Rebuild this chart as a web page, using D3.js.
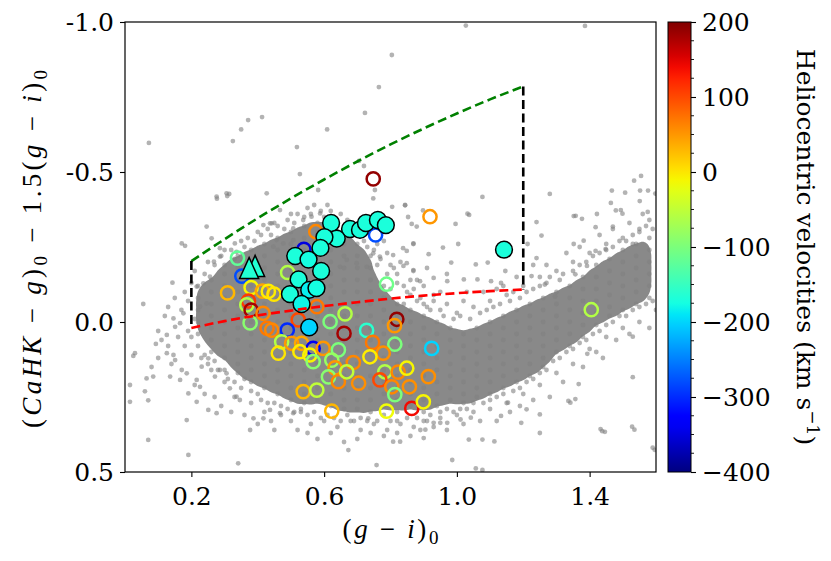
<!DOCTYPE html>
<html>
<head>
<meta charset="utf-8">
<script src="https://cdn.jsdelivr.net/npm/d3@7"></script>
<style>
  body { margin: 0; background: #fff; }
  svg { display: block; }
</style>
</head>
<body>
<div id="container"></div>
<script>
// Figure size and plot box
const width = 831;
const height = 561;
const marginTop = 22;
const marginLeft = 125;
const plotRight = 656;
const plotBottom = 472;

// Axis ticks
const xTicks = [0.2, 0.6, 1.0, 1.4];
const yTicks = [-1.0, -0.5, 0.0, 0.5];
const yTickLabels = ["-1.0", "-0.5", "0.0", "0.5"];
const cbMajorTicks = [200, 100, 0, -100, -200, -300, -400];
const cbMinorTicks = [175, 150, 125, 75, 50, 25, -25, -50, -75, -125, -150, -175,
  -225, -250, -275, -325, -350, -375];

// Sparse field stars, [(g-i)0, CaHK index]
const fieldStars = [
  [1.027,-0.988],[1.386,-0.987],[0.804,-0.89],[0.765,-0.783],[0.723,-0.697],[0.609,-0.642],
  [0.413,-0.683],[0.371,-0.673],[0.35,-0.642],[0.325,-0.603],[0.072,-0.597],[0.518,-0.583],
  [0.527,-0.493],[0.705,-0.537],[0.72,-0.52],[1.28,-0.427],[1.467,-0.438],[1.534,-0.471],
  [1.555,-0.487],[1.552,-0.438],[1.576,-0.438],[0.181,-0.254],[0.277,-0.411],[0.314,-0.427],
  [1.077,-0.417],[1.037,-0.357],[0.805,-0.384],[0.853,-0.35],[1.358,-0.354],[1.422,-0.36],
  [1.47,-0.318],[1.494,-0.373],[1.551,-0.403],[1.575,-0.367],[1.507,-0.431],[1.598,-0.428],
  [1.464,-0.397],[1.479,-0.372],[1.499,-0.361],[1.352,-0.353],[1.377,-0.344],[1.418,-0.316],
  [0.898,-0.372],[0.864,-0.327],[0.879,-0.318],[0.844,-0.389],[1.032,-0.361],[0.996,-0.327],
  [0.958,-0.248],[0.983,-0.198],[1.004,-0.26],[0.915,-0.226],[0.849,-0.237],[0.869,-0.26],
  [1.093,-0.198],[1.146,-0.17],[1.057,-0.192],[1.24,-0.333],[1.213,-0.26],[1.255,-0.288],
  [1.24,-0.213],[1.352,-0.26],[1.382,-0.271],[1.418,-0.237],[1.448,-0.243],[1.103,-0.136],
  [1.133,-0.13],[1.062,-0.142],[1.021,-0.142],[0.971,-0.136],[0.93,-0.147],[0.889,-0.136],
  [0.869,-0.17],[0.839,-0.187],[1.225,-0.153],[1.265,-0.125],[1.296,-0.085],[1.357,-0.159],
  [1.392,-0.187],[1.53,-0.26],
  [1.53,0.049],[1.438,0.364],[1.535,0.359],[1.596,0.426],[1.53,0.184],[1.393,0.106],
  [1.367,0.207],[1.357,0.257],[1.342,0.269],[1.25,0.37],[1.194,0.336],[1.154,0.269],
  [1.113,0.398],[1.077,0.392],[1.036,0.392],[1.057,0.488],[1.077,0.493],[0.986,0.46],
  [0.9,0.387],[0.905,0.359],[1.011,0.325],[1.042,0.319],[0.971,0.336],[0.93,0.336],
  [0.95,0.336],[1.21,0.291],[1.133,0.313],[1.25,0.308],[1.446,0.366],[1.433,0.357],
  [1.528,0.349],[1.59,0.419],[1.336,0.263],
  [0.276,-0.418],[0.306,-0.429],[0.308,-0.42],[0.171,-0.262],[0.143,-0.131],[0.055,-0.06],
  [0.03,0.104],[0.025,0.113],[0.015,0.21],[0.015,0.266],[0.06,0.231],[0.07,0.261],
  [0.085,0.182],[0.065,0.188],[0.093,0.073],[0.126,0.104],[0.146,0.11],[0.151,0.127],
  [0.136,0.182],[0.166,0.193],[0.171,0.16],[0.186,0.171],[0.126,0.043],[0.151,0.016],
  [0.166,0.004],[0.176,-0.029],[0.146,-0.012],[0.191,0.238],[0.216,0.193],[0.226,0.216],
  [0.216,0.266],[0.251,0.293],[0.276,0.304],[0.186,0.327],[0.07,0.393],[0.191,0.443],
  [0.341,0.471],[0.377,0.36],[0.387,0.321],[0.316,0.221],[0.336,0.249],[0.346,0.26],
  [0.437,0.293],[0.467,0.304],[0.417,0.321],[0.507,0.304],[0.673,0.427],[0.758,0.477],
  [0.733,0.321],[0.808,0.399],[0.829,0.399],[0.306,0.171],[0.286,0.16],[0.271,0.182],
  [0.251,0.121],[0.231,0.149],[0.246,-0.318],[0.261,-0.279],[0.216,-0.118],[0.236,-0.129],
  [0.256,-0.151],[0.226,-0.051],[0.246,-0.062],[0.268,-0.201],[0.286,-0.218],[0.417,-0.323],
  [0.442,-0.329],[0.507,-0.312],[0.537,-0.34],[0.562,-0.351],[0.588,-0.362],[0.507,-0.273],
  [0.477,-0.262],[0.457,-0.273],[0.447,-0.251],[0.838,-0.246],[0.869,-0.262],[0.849,-0.196],
  [0.869,-0.173],[0.808,-0.223],[0.748,-0.229],[0.768,-0.218],[0.698,-0.196],[0.728,-0.184],
  [0.668,-0.207],[0.648,-0.184],[0.844,-0.39],[0.753,-0.44],[0.748,-0.412],[0.582,-0.44],
  [0.427,-0.429],[0.467,-0.373],[0.437,-0.329],[0.331,-0.262],[0.286,-0.246],[0.336,-0.234],
  [0.30,0.20],[0.33,0.25],[0.38,0.27],[0.42,0.30],[0.47,0.31],[0.50,0.33],[0.53,0.30],
  [0.56,0.34],[0.60,0.33],[0.64,0.35],[0.68,0.33],[0.71,0.36],[0.75,0.34],[0.79,0.36],
  [0.83,0.34],[0.87,0.35],[0.91,0.33],[0.95,0.32],[1.00,0.31],[1.05,0.30],[1.10,0.29],
  [1.15,0.27],[1.20,0.24],[1.25,0.21],[1.30,0.17],[1.35,0.14],[1.40,0.09],[1.45,0.05],
  [1.50,0.02],[1.55,0.00],[1.60,-0.04],[0.45,0.36],[0.58,0.39],[0.66,0.40],[0.78,0.38],
  [0.97,0.36],[1.12,0.33],[1.28,0.25],[1.44,0.12],
  [1.00,-0.03],[1.05,-0.05],[1.10,-0.07],[1.15,-0.09],[1.20,-0.12],[1.25,-0.15],[1.30,-0.17],
  [1.35,-0.2],[1.40,-0.23],[1.45,-0.26],[1.50,-0.28],[1.55,-0.31],[1.58,-0.34],[1.12,-0.11],
  [1.23,-0.19],[1.33,-0.23],[1.43,-0.29],[1.52,-0.33],
  [0.40,-0.30],[0.45,-0.33],[0.50,-0.36],[0.55,-0.38],[0.62,-0.37],[0.67,-0.34],[0.72,-0.31],
  [0.78,-0.27],[0.83,-0.2],[0.88,-0.14],[0.93,-0.09],[0.35,-0.27],[0.30,-0.24],[0.25,-0.2],
  [0.21,-0.17],[0.79,-0.16],[0.82,-0.13],[0.80,-0.11],[0.85,-0.10],[0.88,-0.07],[0.84,-0.06],
  [0.91,-0.05],[0.95,-0.04],[0.97,-0.06],[0.81,-0.18],[0.76,-0.19],[0.86,-0.14],
  [0.18,-0.10],[0.17,-0.04],[0.19,0.03],[0.18,0.08],[0.20,0.11],[0.23,0.12],[0.26,0.16],
  [0.16,0.05],[0.12,-0.02],[0.10,0.03],[0.13,0.08],
  // halo along the upper edge of the cloud
  [0.24,-0.16],[0.27,-0.19],[0.29,-0.22],[0.32,-0.24],[0.33,-0.21],[0.36,-0.25],[0.37,-0.28],
  [0.39,-0.27],[0.41,-0.29],[0.43,-0.31],[0.44,-0.29],[0.46,-0.32],[0.48,-0.31],[0.49,-0.34],
  [0.51,-0.33],[0.52,-0.36],[0.54,-0.35],[0.56,-0.36],[0.57,-0.39],[0.59,-0.37],[0.60,-0.35],
  [0.61,-0.39],[0.63,-0.35],[0.64,-0.33],[0.65,-0.36],[0.67,-0.31],[0.69,-0.29],[0.70,-0.32],
  [0.72,-0.27],[0.73,-0.25],[0.75,-0.24],[0.76,-0.26],[0.77,-0.21],[0.79,-0.23],[0.80,-0.19],
  [0.82,-0.16],[0.84,-0.12],[0.86,-0.09],[0.87,-0.11],[0.89,-0.08],[0.90,-0.06],[0.92,-0.04],
  [0.93,-0.07],[0.96,-0.02],[0.99,-0.01],[1.01,-0.02],[1.04,-0.01],[1.07,-0.03],[1.09,-0.04],
  [1.11,-0.05],[1.13,-0.06],[1.16,-0.07],[1.17,-0.1],[1.19,-0.08],[1.21,-0.1],[1.23,-0.11],
  [1.25,-0.12],[1.27,-0.13],[1.28,-0.15],[1.31,-0.14],[1.32,-0.16],[1.35,-0.17],[1.37,-0.19],
  [1.39,-0.2],[1.41,-0.22],[1.43,-0.23],[1.45,-0.24],[1.47,-0.25],[1.49,-0.27],[1.51,-0.27],
  [1.53,-0.29],[1.55,-0.3],[1.57,-0.32],[1.59,-0.31],
  // halo along the lower edge of the cloud
  [0.20,-0.13],[0.19,-0.07],[0.21,-0.01],[0.20,0.05],[0.22,0.08],[0.24,0.11],[0.25,0.14],
  [0.27,0.13],[0.28,0.16],[0.30,0.16],[0.31,0.19],[0.33,0.2],[0.35,0.22],[0.36,0.19],
  [0.38,0.23],[0.40,0.24],[0.41,0.26],[0.43,0.27],[0.45,0.27],[0.47,0.28],[0.49,0.29],
  [0.51,0.3],[0.53,0.29],[0.55,0.31],[0.57,0.3],[0.59,0.32],[0.61,0.31],[0.63,0.32],
  [0.65,0.33],[0.67,0.31],[0.69,0.33],[0.71,0.32],[0.73,0.33],[0.76,0.33],[0.78,0.31],
  [0.80,0.33],[0.82,0.33],[0.85,0.32],[0.88,0.32],[0.90,0.33],[0.92,0.31],[0.95,0.3],
  [0.97,0.29],[0.99,0.3],[1.01,0.29],[1.03,0.29],[1.05,0.27],[1.08,0.27],[1.10,0.26],
  [1.12,0.25],[1.14,0.24],[1.17,0.23],[1.19,0.22],[1.21,0.2],[1.23,0.19],[1.25,0.17],
  [1.27,0.16],[1.29,0.13],[1.31,0.12],[1.33,0.1],[1.35,0.09],[1.37,0.07],[1.39,0.06],
  [1.41,0.04],[1.43,0.03],[1.45,0.01],[1.47,0.0],[1.49,-0.02],[1.51,-0.02],[1.53,-0.04],
  [1.55,-0.05],[1.57,-0.06],[1.59,-0.07],
  // outer scatter
  [0.15,-0.08],[0.13,-0.05],[0.11,0.06],[0.14,0.14],[0.10,0.12],[0.08,0.15],[0.21,0.21],
  [0.24,0.24],[0.27,0.25],[0.29,0.28],[0.32,0.3],[0.36,0.31],[0.40,0.34],[0.44,0.33],
  [0.52,0.36],[0.55,0.37],[0.62,0.37],[0.70,0.39],[0.74,0.37],[0.82,0.37],[0.86,0.38],
  [0.89,0.36],[0.93,0.35],[1.02,0.34],[1.07,0.33],[1.16,0.3],[1.19,0.28],[1.23,0.26],
  [1.32,0.2],[1.38,0.15],[1.42,0.1],[1.48,0.06],[1.52,0.04],[1.58,0.02],
  [1.02,-0.07],[1.08,-0.1],[1.14,-0.12],[1.18,-0.15],[1.27,-0.19],[1.37,-0.25],[1.47,-0.31],
  [1.56,-0.36],[0.95,-0.1],[0.90,-0.12],[0.91,-0.18],[0.97,-0.16],[1.03,-0.1]
];

// Dense part of the field-star cloud, read column by column: [(g-i)0, [CaHK index...]]
const cloudColumns = [
  [0.22, [-0.12,-0.08,-0.04,0.00,0.04]],
  [0.26, [-0.14,-0.10,-0.06,-0.02,0.02,0.06,0.10]],
  [0.30, [-0.19,-0.16,-0.12,-0.08,-0.04,0.00,0.04,0.08,0.12]],
  [0.34, [-0.22,-0.18,-0.14,-0.10,-0.06,-0.02,0.02,0.06,0.10,0.14,0.17]],
  [0.38, [-0.24,-0.20,-0.16,-0.12,-0.08,-0.04,0.00,0.04,0.08,0.12,0.16,0.20]],
  [0.42, [-0.26,-0.22,-0.18,-0.14,-0.10,-0.06,-0.02,0.02,0.06,0.10,0.14,0.18,0.22]],
  [0.46, [-0.28,-0.24,-0.20,-0.16,-0.12,-0.08,-0.04,0.00,0.04,0.08,0.12,0.16,0.20,0.24]],
  [0.50, [-0.30,-0.26,-0.22,-0.18,-0.14,-0.10,-0.06,-0.02,0.02,0.06,0.10,0.14,0.18,0.22,0.26]],
  [0.54, [-0.32,-0.28,-0.24,-0.20,-0.16,-0.12,-0.08,-0.04,0.00,0.04,0.08,0.12,0.16,0.20,0.24,0.27]],
  [0.58, [-0.33,-0.30,-0.26,-0.22,-0.18,-0.14,-0.10,-0.06,-0.02,0.02,0.06,0.10,0.14,0.18,0.22,0.26]],
  [0.62, [-0.32,-0.28,-0.24,-0.20,-0.16,-0.12,-0.08,-0.04,0.00,0.04,0.08,0.12,0.16,0.20,0.24,0.28]],
  [0.66, [-0.29,-0.26,-0.22,-0.18,-0.14,-0.10,-0.06,-0.02,0.02,0.06,0.10,0.14,0.18,0.22,0.26,0.29]],
  [0.70, [-0.26,-0.22,-0.18,-0.14,-0.10,-0.06,-0.02,0.02,0.06,0.10,0.14,0.18,0.22,0.26,0.29]],
  [0.74, [-0.22,-0.18,-0.14,-0.10,-0.06,-0.02,0.02,0.06,0.10,0.14,0.18,0.22,0.26,0.30]],
  [0.78, [-0.12,-0.08,-0.04,0.00,0.04,0.08,0.12,0.16,0.20,0.24,0.28]],
  [0.82, [-0.06,-0.02,0.02,0.06,0.10,0.14,0.18,0.22,0.26,0.30]],
  [0.86, [-0.04,0.00,0.04,0.08,0.12,0.16,0.20,0.24,0.28]],
  [0.90, [-0.02,0.02,0.06,0.10,0.14,0.18,0.22,0.26,0.30]],
  [0.94, [0.00,0.04,0.08,0.12,0.16,0.20,0.24,0.28]],
  [0.98, [0.02,0.06,0.10,0.14,0.18,0.22,0.26]],
  [1.02, [0.04,0.08,0.12,0.16,0.20,0.24,0.27]],
  [1.06, [0.02,0.06,0.10,0.14,0.18,0.22,0.25]],
  [1.10, [0.00,0.04,0.08,0.12,0.16,0.20,0.24]],
  [1.14, [-0.02,0.02,0.06,0.10,0.14,0.18,0.22]],
  [1.18, [-0.04,0.00,0.04,0.08,0.12,0.16,0.20]],
  [1.22, [-0.06,-0.02,0.02,0.06,0.10,0.14,0.18]],
  [1.26, [-0.08,-0.04,0.00,0.04,0.08,0.12,0.15]],
  [1.30, [-0.10,-0.06,-0.02,0.02,0.06,0.10]],
  [1.34, [-0.12,-0.08,-0.04,0.00,0.04,0.08]],
  [1.38, [-0.15,-0.11,-0.07,-0.03,0.01,0.05]],
  [1.42, [-0.19,-0.15,-0.11,-0.07,-0.03,0.01]],
  [1.46, [-0.21,-0.17,-0.13,-0.09,-0.05,-0.02]],
  [1.50, [-0.24,-0.20,-0.16,-0.12,-0.08,-0.04]],
  [1.54, [-0.26,-0.22,-0.18,-0.14,-0.10,-0.06]],
  [1.58, [-0.28,-0.24,-0.20,-0.16,-0.12,-0.08]]
];

// Spectroscopic targets (open circles): [(g-i)0, index, v_helio]
const openStars = [
  [0.748,-0.477,190],[0.575,-0.301,60],[0.755,-0.290,-280],[0.539,-0.242,-350],
  [0.339,-0.213,-120],[0.352,-0.153,-280],[0.788,-0.126,-110],[0.490,-0.165,-60],
  [0.919,-0.351,50],[0.309,-0.097,30],[0.380,-0.115,-10],[0.414,-0.103,40],
  [0.432,-0.102,-5],[0.449,-0.093,0],[0.372,-0.070,110],[0.367,-0.057,-60],
  [0.380,-0.040,180],[0.416,-0.029,60],[0.377,0.003,-90],[0.428,0.021,70],
  [0.522,-0.007,100],[0.578,-0.051,70],[0.489,0.027,-300],[0.442,0.027,60],
  [0.472,0.066,-60],[0.462,0.104,0],[0.502,0.071,50],[0.532,0.071,40],
  [0.567,0.088,-340],[0.557,0.110,-10],[0.597,0.088,50],[0.643,0.093,-100],
  [0.623,0.127,-80],[0.618,-0.001,-100],[0.663,-0.027,-60],[0.660,0.038,180],
  [0.728,0.028,-160],[0.819,-0.009,190],[0.812,0.012,50],[0.813,0.074,-100],
  [0.746,0.068,70],[0.778,0.104,55],[0.738,0.116,-5],[0.688,0.135,60],
  [0.633,0.153,50],[0.613,0.183,-90],[0.643,0.199,60],[0.704,0.204,55],
  [0.668,0.166,-50],[0.783,0.166,-60],[0.768,0.193,100],[0.823,0.167,60],
  [0.849,0.154,-10],[0.914,0.182,55],[0.804,0.216,60],[0.857,0.216,55],
  [0.813,0.242,-100],[0.537,0.232,30],[0.578,0.227,-50],[0.623,0.297,30],
  [0.788,0.297,-15],[0.864,0.288,140],[0.899,0.266,-10],[0.924,0.088,-200],
  [1.405,-0.041,-60],[0.567,0.132,-90],[0.527,0.099,-5]
];

// Selected members (filled circles): [(g-i)0, index, v_helio]
const memberStars = [
  [0.621,-0.330,-170],[0.678,-0.310,-170],[0.708,-0.307,-170],[0.726,-0.330,-170],
  [0.762,-0.340,-170],[0.786,-0.323,-170],[0.638,-0.278,-170],[0.601,-0.283,-170],
  [0.589,-0.247,-170],[0.513,-0.220,-170],[0.553,-0.208,-175],[0.591,-0.170,-170],
  [0.523,-0.142,-170],[0.555,-0.107,-185],[0.577,-0.113,-175],[0.497,-0.093,-170],
  [0.532,-0.060,-180],[0.555,0.018,-200],[1.142,-0.241,-170]
];

// Triangle markers: [(g-i)0, index, v_helio]
const triangleStars = [[0.392,-0.187,-165],[0.374,-0.180,-165]];

// Selection box edges
const greenCutX = [0.2, 0.3, 0.4, 0.5, 0.6, 0.7, 0.8, 0.9, 1.0, 1.1, 1.2];
const greenCutY = [-0.203, -0.276, -0.346, -0.412, -0.475, -0.535, -0.592, -0.645, -0.695, -0.742, -0.785];
const redCutX = [0.2, 0.3, 0.4, 0.5, 0.6, 0.7, 0.8, 0.9, 1.0, 1.1, 1.2];
const redCutY = [0.02, -0.003, -0.022, -0.038, -0.053, -0.066, -0.078, -0.088, -0.096, -0.103, -0.108];

// Scales
const x = d3.scaleLinear().domain([0, 1.6]).range([marginLeft, plotRight]);
const y = d3.scaleLinear().domain([-1.0, 0.5]).range([marginTop, plotBottom]);
const vScale = d3.scaleLinear().domain([-400, 200]).range([0, 1]).clamp(true);
const cbY = d3.scaleLinear().domain([-400, 200]).range([plotBottom, marginTop]);

// matplotlib "jet"
const jetR = d3.scaleLinear().domain([0, 0.35, 0.66, 0.89, 1]).range([0, 0, 1, 1, 0.5]).clamp(true);
const jetG = d3.scaleLinear().domain([0, 0.125, 0.375, 0.64, 0.91, 1]).range([0, 0, 1, 1, 0, 0]).clamp(true);
const jetB = d3.scaleLinear().domain([0, 0.11, 0.34, 0.65, 1]).range([0.5, 1, 1, 0, 0]).clamp(true);
function jet(t) {
  return d3.rgb(255 * jetR(t), 255 * jetG(t), 255 * jetB(t)).formatHex();
}
const vColor = (v) => jet(vScale(v));

const serif = "'DejaVu Serif', serif";
const mathFont = "'Liberation Serif', 'DejaVu Serif', serif";

const svg = d3.create("svg").attr("width", width).attr("height", height)
  .attr("viewBox", [0, 0, width, height]);

const defs = svg.append("defs");
defs.append("clipPath").attr("id", "plotClip")
  .append("rect")
  .attr("x", marginLeft).attr("y", marginTop)
  .attr("width", plotRight - marginLeft).attr("height", plotBottom - marginTop);

const grad = defs.append("linearGradient").attr("id", "jetGrad")
  .attr("x1", 0).attr("y1", 1).attr("x2", 0).attr("y2", 0);
grad.selectAll("stop")
  .data(d3.range(0, 1.0001, 0.025))
  .join("stop")
  .attr("offset", (d) => d)
  .attr("stop-color", (d) => jet(d));

const plot = svg.append("g").attr("clip-path", "url(#plotClip)");

// Field stars: density fill for the dense core, then every dot
const cloudPoints = cloudColumns.flatMap(([cx, ys]) => ys.map((cy) => [cx, cy]));
const grayPoints = fieldStars.concat(cloudPoints);

const density = d3.contourDensity()
  .x((d) => x(d[0]))
  .y((d) => y(d[1]))
  .size([width, height])
  .cellSize(2)
  .bandwidth(9)
  .thresholds([0.0043]);

plot.append("g")
  .selectAll("path")
  .data(density(cloudPoints))
  .join("path")
  .attr("d", d3.geoPath())
  .attr("fill", "#898989");

plot.append("g")
  .selectAll("circle")
  .data(grayPoints)
  .join("circle")
  .attr("cx", (d) => x(d[0]))
  .attr("cy", (d) => y(d[1]))
  .attr("r", 2.4)
  .attr("fill", "#808080")
  .attr("fill-opacity", 0.6);

// Open circles coloured by velocity
plot.append("g")
  .selectAll("circle")
  .data(openStars)
  .join("circle")
  .attr("cx", (d) => x(d[0]))
  .attr("cy", (d) => y(d[1]))
  .attr("r", 6.6)
  .attr("fill", "none")
  .attr("stroke", (d) => vColor(d[2]))
  .attr("stroke-width", 2.5);

// Filled members
plot.append("g")
  .selectAll("circle")
  .data(memberStars)
  .join("circle")
  .attr("cx", (d) => x(d[0]))
  .attr("cy", (d) => y(d[1]))
  .attr("r", 8.4)
  .attr("fill", (d) => vColor(d[2]))
  .attr("stroke", "#000")
  .attr("stroke-width", 1.5);

// Triangles
const triW = 19, triH = 21;
plot.append("g")
  .selectAll("path")
  .data(triangleStars)
  .join("path")
  .attr("transform", (d) => `translate(${x(d[0])},${y(d[1])})`)
  .attr("d", `M0,${-triH / 2}L${triW / 2},${triH / 2}L${-triW / 2},${triH / 2}Z`)
  .attr("fill", (d) => vColor(d[2]))
  .attr("stroke", "#000")
  .attr("stroke-width", 1.5)
  .attr("stroke-linejoin", "miter");

// Selection box
const line = d3.line().x((d) => x(d[0])).y((d) => y(d[1])).curve(d3.curveMonotoneX);
const dash = "9,4.5";
plot.append("path")
  .attr("d", line(d3.zip(greenCutX, greenCutY)))
  .attr("fill", "none").attr("stroke", "green").attr("stroke-width", 2.6)
  .attr("stroke-dasharray", dash);
plot.append("path")
  .attr("d", line(d3.zip(redCutX, redCutY)))
  .attr("fill", "none").attr("stroke", "red").attr("stroke-width", 2.6)
  .attr("stroke-dasharray", dash);
const vLine = d3.line().x((d) => x(d[0])).y((d) => y(d[1]));
plot.append("path")
  .attr("d", vLine([[greenCutX[0], greenCutY[0]], [redCutX[0], redCutY[0]]]))
  .attr("fill", "none").attr("stroke", "#000").attr("stroke-width", 2.6)
  .attr("stroke-dasharray", dash);
plot.append("path")
  .attr("d", vLine([[greenCutX[10], greenCutY[10]], [redCutX[10], redCutY[10]]]))
  .attr("fill", "none").attr("stroke", "#000").attr("stroke-width", 2.6)
  .attr("stroke-dasharray", dash);

// Axes
const xAxis = svg.append("g")
  .attr("transform", `translate(0,${plotBottom})`)
  .call(d3.axisBottom(x).tickValues(xTicks).tickFormat(d3.format(".1f")).tickSize(5).tickPadding(10));
const yAxis = svg.append("g")
  .attr("transform", `translate(${marginLeft},0)`)
  .call(d3.axisLeft(y).tickValues(yTicks).tickFormat((d, i) => yTickLabels[i]).tickSize(5).tickPadding(6));
[xAxis, yAxis].forEach((g) => {
  g.select(".domain").remove();
  g.selectAll(".tick line").attr("stroke", "#000").attr("stroke-width", 1.1);
  g.selectAll(".tick text").attr("font-family", serif).attr("font-size", 25).attr("fill", "#000");
});

svg.append("rect")
  .attr("x", marginLeft).attr("y", marginTop)
  .attr("width", plotRight - marginLeft).attr("height", plotBottom - marginTop)
  .attr("fill", "none").attr("stroke", "#000").attr("stroke-width", 1.2);

// Axis labels
const xLabel = svg.append("text")
  .attr("x", (marginLeft + plotRight) / 2).attr("y", 538)
  .attr("text-anchor", "middle")
  .attr("font-family", mathFont).attr("font-size", 27)
  .attr("textLength", 96);
xLabel.append("tspan").text("(");
xLabel.append("tspan").attr("font-style", "italic").text("g");
xLabel.append("tspan").text(" − ");
xLabel.append("tspan").attr("font-style", "italic").text("i");
xLabel.append("tspan").text(")");
xLabel.append("tspan").attr("font-size", 19).attr("dy", 6).text("0");

const yLabel = svg.append("text")
  .attr("transform", `translate(41,249) rotate(-90)`)
  .attr("text-anchor", "middle")
  .attr("font-family", mathFont).attr("font-size", 27)
  .attr("textLength", 358);
yLabel.append("tspan").text("(");
yLabel.append("tspan").attr("font-style", "italic").text("CaHK");
yLabel.append("tspan").text(" − ");
yLabel.append("tspan").attr("font-style", "italic").text("g");
yLabel.append("tspan").text(")");
yLabel.append("tspan").attr("font-size", 19).attr("dy", 6).text("0");
yLabel.append("tspan").attr("dy", -6).text(" − 1.5(");
yLabel.append("tspan").attr("font-style", "italic").text("g");
yLabel.append("tspan").text(" − ");
yLabel.append("tspan").attr("font-style", "italic").text("i");
yLabel.append("tspan").text(")");
yLabel.append("tspan").attr("font-size", 19).attr("dy", 6).text("0");

// Colour bar
const cbX = 668, cbW = 23;
svg.append("rect")
  .attr("x", cbX).attr("y", marginTop)
  .attr("width", cbW).attr("height", plotBottom - marginTop)
  .attr("fill", "url(#jetGrad)")
  .attr("stroke", "#000").attr("stroke-width", 1);

const cbAxis = svg.append("g")
  .attr("transform", `translate(${cbX + cbW},0)`)
  .call(d3.axisRight(cbY).tickValues(cbMajorTicks).tickFormat(d3.format("d")).tickSize(5).tickPadding(6));
cbAxis.select(".domain").remove();
cbAxis.selectAll(".tick line").attr("stroke", "#000").attr("stroke-width", 1.1);
cbAxis.selectAll(".tick text").attr("font-family", serif).attr("font-size", 25).attr("fill", "#000");

svg.append("g")
  .selectAll("line")
  .data(cbMinorTicks)
  .join("line")
  .attr("x1", cbX + cbW).attr("x2", cbX + cbW + 3)
  .attr("y1", (d) => cbY(d)).attr("y2", (d) => cbY(d))
  .attr("stroke", "#000").attr("stroke-width", 0.9);

const cbLabel = svg.append("text")
  .attr("transform", `translate(797,${(marginTop + plotBottom) / 2}) rotate(90)`)
  .attr("text-anchor", "middle")
  .attr("font-family", serif).attr("font-size", 25);
cbLabel.append("tspan").text("Heliocentric velocities (km s");
cbLabel.append("tspan").attr("font-size", 17).attr("dy", -10).text("−1");
cbLabel.append("tspan").attr("dy", 10).text(")");

document.getElementById("container").append(svg.node());
</script>
</body>
</html>
